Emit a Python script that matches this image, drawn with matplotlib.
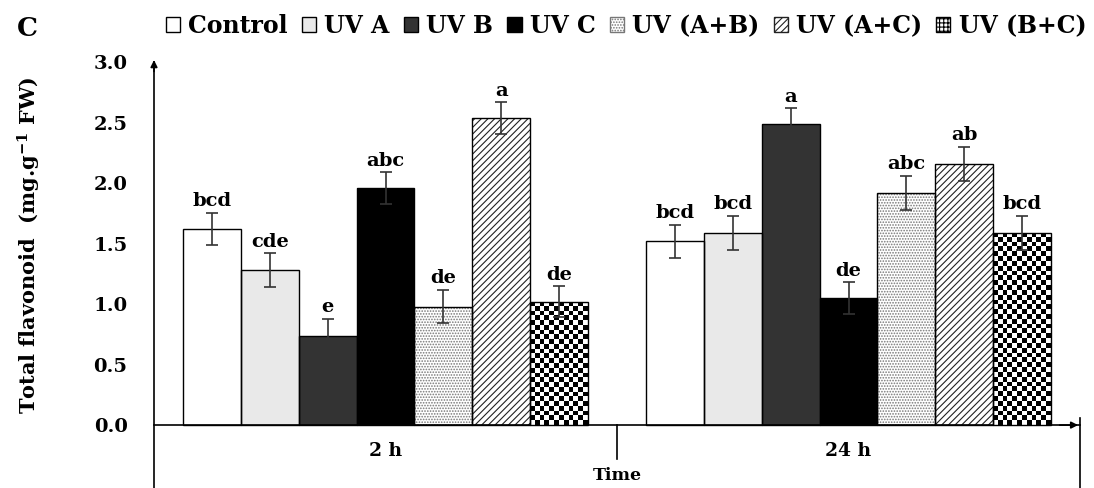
import numpy as np
import matplotlib.pyplot as plt
from matplotlib.patches import Patch

plt.rcParams['font.family'] = 'DejaVu Serif'
plt.rcParams['font.weight'] = 'bold'
plt.rcParams['mathtext.default'] = 'regular'
plt.rcParams['hatch.linewidth'] = 0.8

times = ['2 h', '24 h']
treatments = ['Control', 'UV A', 'UV B', 'UV C', 'UV (A+B)', 'UV (A+C)', 'UV (B+C)']

# mean flavonoid content, rows = treatment, cols = time
means = {
    'Control':  [1.62, 1.52],
    'UV A':     [1.28, 1.59],
    'UV B':     [0.74, 2.49],
    'UV C':     [1.96, 1.05],
    'UV (A+B)': [0.98, 1.92],
    'UV (A+C)': [2.54, 2.16],
    'UV (B+C)': [1.02, 1.59],
}
errors = {
    'Control':  [0.135, 0.135],
    'UV A':     [0.14, 0.14],
    'UV B':     [0.14, 0.13],
    'UV C':     [0.13, 0.13],
    'UV (A+B)': [0.14, 0.14],
    'UV (A+C)': [0.13, 0.14],
    'UV (B+C)': [0.13, 0.14],
}
letters = {
    'Control':  ['bcd', 'bcd'],
    'UV A':     ['cde', 'bcd'],
    'UV B':     ['e', 'a'],
    'UV C':     ['abc', 'de'],
    'UV (A+B)': ['de', 'abc'],
    'UV (A+C)': ['a', 'ab'],
    'UV (B+C)': ['de', 'bcd'],
}

# face colour, hatch, hatch colour
styles = {
    'Control':  ('white', '', 'black'),
    'UV A':     ('#e9e9e9', '', 'black'),
    'UV B':     ('#333333', '', 'black'),
    'UV C':     ('black', '', 'black'),
    'UV (A+B)': ('white', '......', '#777777'),
    'UV (A+C)': ('white', '/////', '#222222'),
    'UV (B+C)': ('white', '', 'black'),
}

fig = plt.figure(figsize=(10.94, 4.88), dpi=100)
ax = fig.add_axes([154 / 1094, 0.0, 926 / 1094, 428.3 / 488])

x = np.arange(len(times))
width = 0.125

handles = []
for i, t in enumerate(treatments):
    pos = x + (i - 3) * width
    face, hatch, hcol = styles[t]
    fill = ax.bar(pos, means[t], width, color=face, hatch=hatch,
                  edgecolor=hcol, linewidth=0, zorder=2)
    outline = ax.bar(pos, means[t], width, fill=False, edgecolor='black',
                     linewidth=1.0, zorder=4)
    if t == 'UV (B+C)':
        # checkerboard fill
        for rect in fill:
            x0, w, h = rect.get_x(), rect.get_width(), rect.get_height()
            nx = 12
            ny = int(round(h / 0.04))
            board = np.indices((ny, nx)).sum(axis=0) % 2
            im = ax.imshow(board, extent=(x0, x0 + w, 0, h), cmap='gray',
                           interpolation='nearest', aspect='auto', zorder=3)
            im.set_clip_path(rect)
        handles.append(Patch(facecolor='white', edgecolor='black', hatch='++++', label=t))
    else:
        handles.append(Patch(facecolor=face, edgecolor='black' if not hatch else hcol,
                             hatch=hatch, label=t))
    ax.errorbar(pos, means[t], yerr=errors[t], fmt='none', ecolor='#333333',
                elinewidth=1.2, capsize=4, capthick=1.2, zorder=5)
    for p, m, e, lab in zip(pos, means[t], errors[t], letters[t]):
        ax.text(p, m + e + 0.02, lab, ha='center', va='bottom',
                fontsize=14, fontweight='bold')

ax.set_xlim(-0.5, 1.5)
ax.set_ylim(-0.52, 3.02)

# axes drawn as arrows
for s in ['top', 'right']:
    ax.spines[s].set_visible(False)
ax.spines['bottom'].set_position(('data', 0))
ax.spines['bottom'].set_linewidth(1.2)
ax.spines['left'].set_linewidth(1.2)
ax.spines['left'].set_bounds(-0.52, 3.0)
ax.annotate('', xy=(-0.5, 3.04), xytext=(-0.5, 2.9),
            arrowprops=dict(arrowstyle='-|>', color='black', lw=1.2, mutation_scale=10),
            annotation_clip=False)
ax.annotate('', xy=(1.502, 0), xytext=(1.45, 0),
            arrowprops=dict(arrowstyle='-|>', color='black', lw=1.2, mutation_scale=10),
            annotation_clip=False)
ax.plot([0.5, 0.5], [0, -0.28], color='black', lw=1.2, clip_on=False)
ax.plot([1.5, 1.5], [0.06, -0.52], color='black', lw=1.2, clip_on=False)

ax.set_yticks(np.arange(0, 3.01, 0.5))
ax.set_yticklabels(['%.1f' % v for v in np.arange(0, 3.01, 0.5)], fontsize=14, fontweight='bold')
ax.tick_params(axis='y', length=0, pad=19)
ax.set_xticks(x)
ax.set_xticklabels(times, fontsize=13.5, fontweight='bold')
ax.tick_params(axis='x', length=0, pad=12)

ax.set_xlabel('Time', fontsize=12.5, fontweight='bold', labelpad=5)
ax.set_ylabel('Total flavonoid  (mg.g$^{-1}$ FW)', fontsize=15, fontweight='bold')
ax.yaxis.set_label_coords(-0.12, 0.567)

fig.text(27 / 1094, 1 - 29 / 488, 'C', fontsize=19, fontweight='bold', ha='center', va='center')

fig.legend(handles=handles, loc='center', bbox_to_anchor=(626 / 1094, 1 - 26 / 488),
           ncol=7, frameon=False, fontsize=17, handlelength=0.6, handleheight=0.6,
           handletextpad=0.35, columnspacing=0.6, borderpad=0)

fig.savefig('out.png', dpi=100)
